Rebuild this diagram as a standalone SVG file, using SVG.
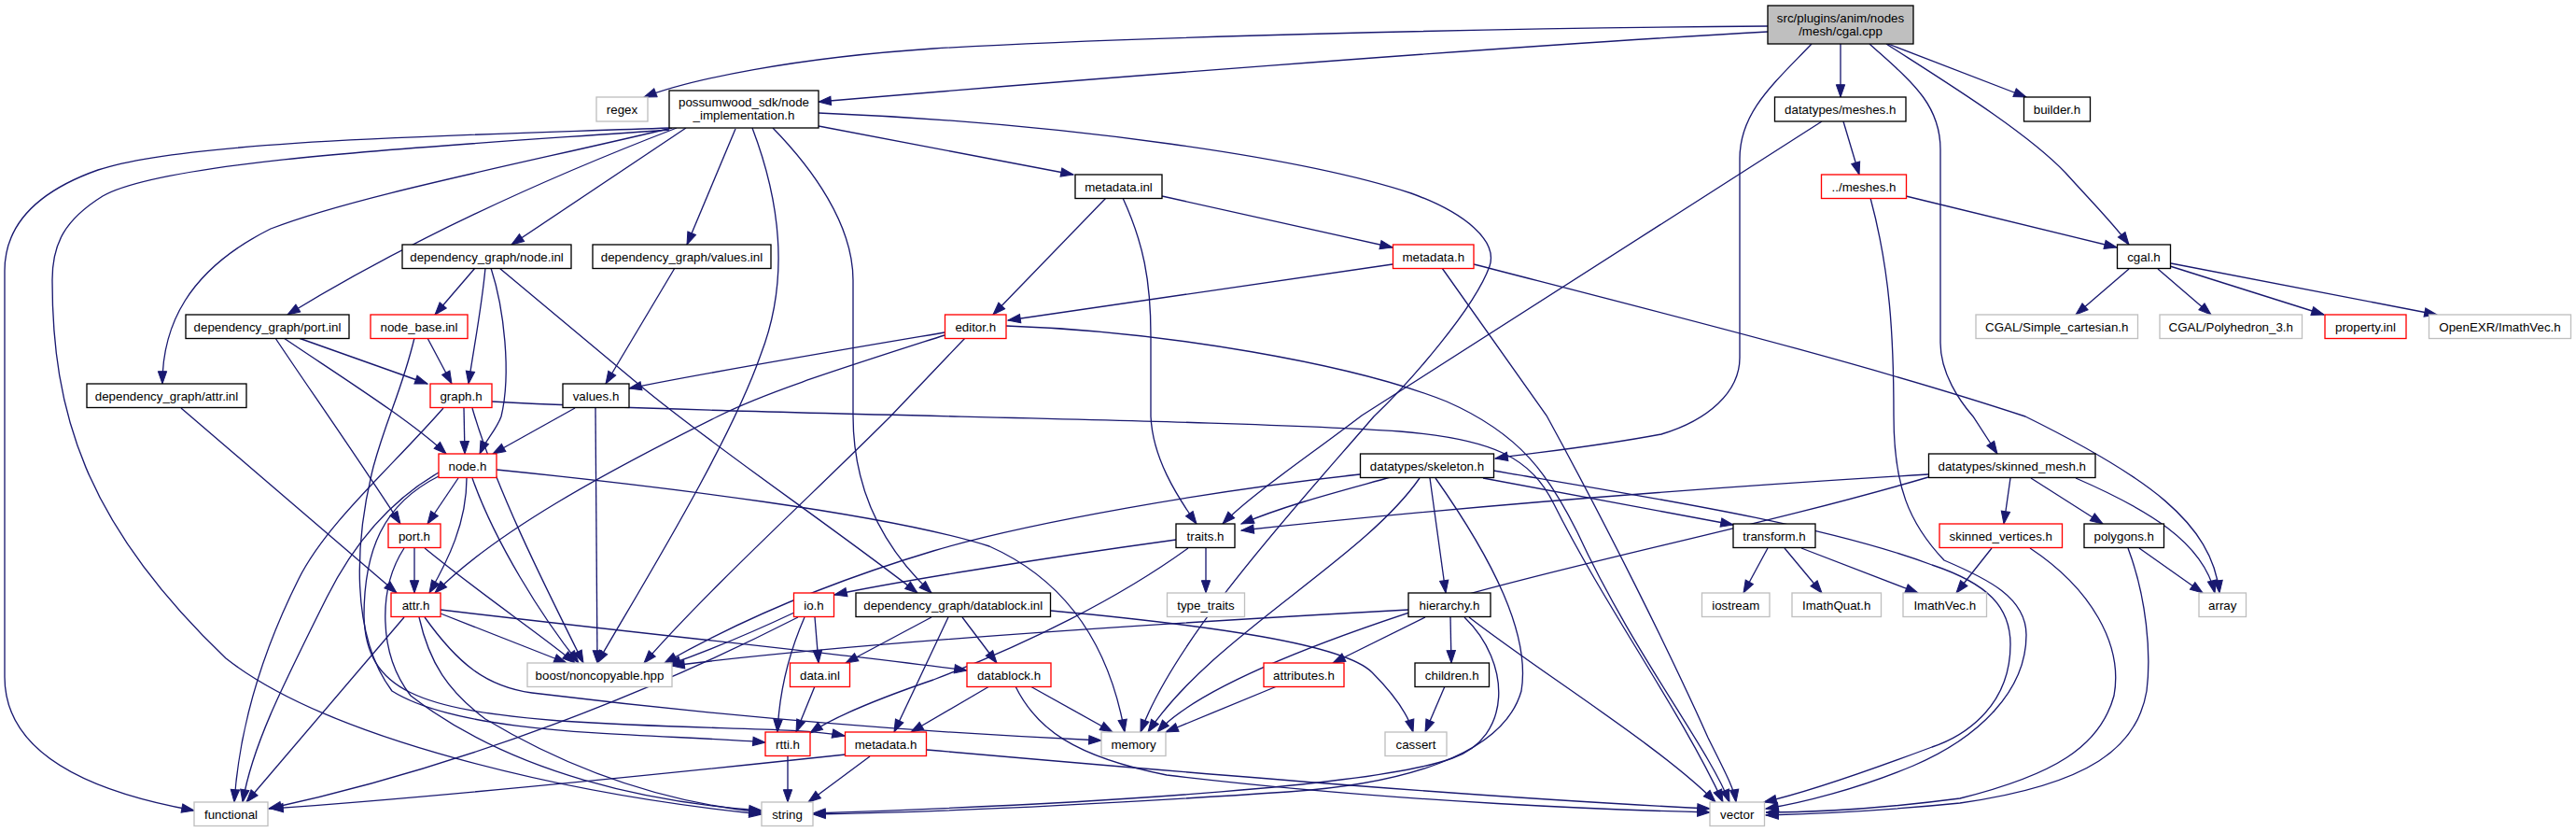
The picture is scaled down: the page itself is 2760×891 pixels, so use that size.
<svg xmlns="http://www.w3.org/2000/svg" width="2760" height="891" viewBox="0 0 2760 891">
<style>
rect{stroke-width:1.33}
.b rect{fill:#fff;stroke:#000}
.r rect{fill:#fff;stroke:#ff0000}
.g rect{fill:#fff;stroke:#bfbfbf}
.root rect{fill:#bfbfbf;stroke:#000}
text{font-family:"Liberation Sans",Arial,sans-serif;font-size:13.33px;text-anchor:middle;fill:#000}
#edges path{fill:none;stroke:#191970;stroke-width:1.33;marker-end:url(#ah)}
</style>
<defs>
<marker id="ah" markerUnits="userSpaceOnUse" markerWidth="14" markerHeight="10" refX="13.3" refY="4.67" orient="auto" overflow="visible"><path d="M0,0 L13.3,4.67 L0,9.33 z" fill="#191970" stroke="#191970" stroke-width="1"/></marker>
</defs>
<rect x="0" y="0" width="2760" height="891" fill="#fff"/>
<g id="edges">
<path d="M1894,28 C1600,30 1200,40 1000,52 C850,62 740,85 690,104"/>
<path d="M1894,34 C1600,50 1100,90 877,109"/>
<path d="M1972,47 L1972,104"/>
<path d="M2023,47 L2171,104"/>
<path d="M2021,47 C2080,85 2170,140 2213,185 C2240,215 2265,240 2281,262"/>
<path d="M2003,47 C2045,85 2079,110 2079,160 L2079,367 C2079,400 2100,430 2114,446 L2140,486"/>
<path d="M1941,47 C1900,90 1864,120 1864,170 L1864,383 C1864,420 1830,450 1780,465 C1700,480 1640,485 1602,491"/>
<path d="M717,137 C500,145 200,150 105,182 C40,205 5,240 5,290 L5,725 C5,800 80,845 208,868"/>
<path d="M717,139 C500,155 180,170 110,210 C70,235 56,260 56,300 C56,440 90,560 242,705 C350,790 600,850 816,872"/>
<path d="M720,137 C560,175 380,210 290,245 C200,290 174,350 174,411"/>
<path d="M725,137 C600,185 450,250 308,337"/>
<path d="M735,137 L548,262"/>
<path d="M788,138 L736,262"/>
<path d="M806,137 C830,200 850,290 815,380 C780,480 680,640 640,710"/>
<path d="M828,137 C870,180 914,240 914,300 L914,445 C914,530 950,590 998,635"/>
<path d="M877,135 L1150,187"/>
<path d="M877,121 C1150,132 1400,170 1512,207 C1570,228 1605,258 1596,285 C1580,330 1510,410 1472,446 C1400,530 1260,680 1222,784"/>
<path d="M1185,212 L1064,337"/>
<path d="M1245,210 L1492,265"/>
<path d="M1203,212 C1225,260 1233,300 1233,360 L1233,446 C1235,490 1260,530 1282,561"/>
<path d="M1492,283 L1080,343"/>
<path d="M1545,287 L1657,445 C1720,560 1790,700 1830,790 C1850,830 1858,845 1860,859"/>
<path d="M1579,283 C1800,340 2000,390 2170,446 C2300,510 2370,560 2378,635"/>
<path d="M1975,130 L1992,187"/>
<path d="M1952,130 L1459,445 C1400,490 1340,530 1310,561"/>
<path d="M2042,210 L2268,265"/>
<path d="M2004,212 C2025,290 2029,360 2029,445 C2029,520 2045,560 2083,600 C2130,620 2171,640 2171,680 C2171,740 2120,790 2050,820 C1990,845 1930,860 1892,866"/>
<path d="M2281,288 L2224,337"/>
<path d="M2312,288 L2369,337"/>
<path d="M2325,285 L2490,337"/>
<path d="M2326,282 L2611,337"/>
<path d="M509,287 L466,337"/>
<path d="M520,287 C516,330 508,370 502,411"/>
<path d="M526,287 C540,330 548,400 537,446 C532,460 520,472 514,486"/>
<path d="M535,287 L686,413 C760,475 900,570 983,635"/>
<path d="M723,287 L649,411"/>
<path d="M320,362 L458,411"/>
<path d="M304,362 C360,400 440,450 478,486"/>
<path d="M295,362 C320,400 390,500 429,561"/>
<path d="M458,362 L484,411"/>
<path d="M444,362 C430,420 415,445 400,500 C380,580 375,680 420,740 C500,790 700,785 820,795"/>
<path d="M194,437 L425,635"/>
<path d="M497,437 L498,486"/>
<path d="M475,437 C420,500 350,560 320,620 C270,720 255,800 251,859"/>
<path d="M506,437 C530,520 580,620 625,710"/>
<path d="M527,430 C800,445 1300,448 1500,462 C1600,470 1640,490 1665,540 C1720,650 1800,760 1846,859"/>
<path d="M616,437 L528,486"/>
<path d="M638,437 L640,710"/>
<path d="M1012,356 C900,375 750,400 674,416"/>
<path d="M1012,359 C900,395 820,420 769,446 C650,505 530,570 466,635"/>
<path d="M1034,362 L954,446 C870,530 760,630 690,710"/>
<path d="M1078,349 C1250,355 1450,390 1550,430 C1630,465 1660,510 1690,570 C1750,700 1830,800 1853,859"/>
<path d="M491,512 L458,561"/>
<path d="M500,512 C500,560 480,600 460,635"/>
<path d="M506,512 C530,580 580,660 620,710"/>
<path d="M532,503 C700,520 950,550 1060,585 C1150,625 1190,700 1205,784"/>
<path d="M470,506 C420,535 380,580 350,640 C300,740 270,800 260,859"/>
<path d="M470,510 C410,540 390,590 390,660 C392,740 450,760 600,772 C750,782 850,778 905,788"/>
<path d="M444,587 L444,635"/>
<path d="M455,587 C520,640 580,680 616,710"/>
<path d="M433,587 C405,630 405,700 440,745 C550,830 700,860 816,868"/>
<path d="M472,657 L607,710"/>
<path d="M433,661 L264,859"/>
<path d="M449,661 C460,710 480,740 520,770 C620,830 720,860 816,870"/>
<path d="M455,661 C490,710 520,735 570,742 C800,770 1000,785 1180,793"/>
<path d="M472,653 C700,680 900,700 1036,718"/>
<path d="M851,656 C800,680 750,700 716,712"/>
<path d="M855,661 C700,740 500,820 288,866"/>
<path d="M862,661 C845,700 835,740 833,784"/>
<path d="M873,661 L877,710"/>
<path d="M1260,578 C1100,600 950,625 894,637"/>
<path d="M1292,587 L1292,635"/>
<path d="M1273,587 C1200,640 1100,690 1000,728 C930,752 890,770 868,785"/>
<path d="M998,661 L906,710"/>
<path d="M1016,661 L958,784"/>
<path d="M1031,661 L1068,710"/>
<path d="M1126,654 C1300,670 1440,690 1470,720 C1500,750 1510,770 1514,784"/>
<path d="M1060,735 L976,784"/>
<path d="M1104,735 L1192,784"/>
<path d="M1088,735 C1110,780 1150,810 1250,830 C1500,860 1750,868 1832,870"/>
<path d="M873,735 L853,784"/>
<path d="M844,810 L844,859"/>
<path d="M932,810 L866,859"/>
<path d="M906,808 C700,830 450,855 290,866"/>
<path d="M993,803 C1300,830 1600,855 1832,866"/>
<path d="M1490,511 C1440,525 1380,540 1330,561"/>
<path d="M1457,508 C1300,525 1100,560 1000,590 C900,620 800,660 712,710"/>
<path d="M1521,512 C1460,600 1300,680 1230,784"/>
<path d="M1532,512 L1549,635"/>
<path d="M1538,512 C1600,600 1640,680 1630,740 C1610,810 1500,840 1380,848 C1200,860 1000,870 871,872"/>
<path d="M1589,512 L1857,562"/>
<path d="M1600,504 C1750,530 1950,560 2070,605 C2130,625 2154,650 2154,690 C2154,760 2100,790 2070,800 C1990,830 1930,850 1890,859"/>
<path d="M1527,661 L1428,710"/>
<path d="M1554,661 L1555,710"/>
<path d="M1509,653 C1200,670 900,690 720,713"/>
<path d="M1569,661 C1620,710 1620,790 1556,812 C1480,840 1200,860 871,871"/>
<path d="M1574,661 C1650,720 1780,800 1838,859"/>
<path d="M1548,735 L1527,784"/>
<path d="M1368,735 L1249,784"/>
<path d="M1894,587 L1868,635"/>
<path d="M1912,587 L1952,635"/>
<path d="M1930,587 L2055,635"/>
<path d="M2066,508 C1700,530 1450,555 1330,568"/>
<path d="M2066,511 C1900,560 1700,600 1560,640 C1400,690 1280,740 1240,784"/>
<path d="M2154,512 L2147,561"/>
<path d="M2176,512 L2253,561"/>
<path d="M2224,512 C2300,545 2360,580 2373,635"/>
<path d="M2134,587 L2096,635"/>
<path d="M2175,587 C2240,630 2275,690 2265,745 C2250,800 2200,830 2100,855 C2000,868 1930,870 1892,870"/>
<path d="M2292,587 L2360,635"/>
<path d="M2280,587 C2300,640 2305,700 2300,740 C2290,800 2240,840 2100,860 C2000,870 1930,872 1892,873"/>
</g>
<g id="n_root" class="root"><rect x="1894" y="6" width="156" height="41"/><text x="1972" y="23.5">src/plugins/anim/nodes</text><text x="1972" y="37.5">/mesh/cgal.cpp</text></g>
<g id="n_regex" class="g"><rect x="639" y="104" width="55" height="26"/><text x="666.5" y="121.7">regex</text></g>
<g id="n_possumwood" class="b"><rect x="717" y="97" width="160" height="40"/><text x="797" y="113.5">possumwood_sdk/node</text><text x="797" y="127.5">_implementation.h</text></g>
<g id="n_meshes" class="b"><rect x="1901.5" y="104" width="140.5" height="26"/><text x="1971.75" y="121.7">datatypes/meshes.h</text></g>
<g id="n_builder" class="b"><rect x="2168.5" y="104" width="71" height="26"/><text x="2204" y="121.7">builder.h</text></g>
<g id="n_metadata_inl" class="b"><rect x="1152" y="187" width="93" height="25.5"/><text x="1198.5" y="204.5">metadata.inl</text></g>
<g id="n_meshes2" class="r"><rect x="1951.5" y="187" width="91" height="25.5"/><text x="1997" y="204.5">../meshes.h</text></g>
<g id="n_node_inl" class="b"><rect x="431" y="262" width="181" height="25.5"/><text x="521.5" y="279.5">dependency_graph/node.inl</text></g>
<g id="n_values_inl" class="b"><rect x="635" y="262" width="191" height="25.5"/><text x="730.5" y="279.5">dependency_graph/values.inl</text></g>
<g id="n_metadata_h1" class="r"><rect x="1492.5" y="262" width="86.5" height="25.5"/><text x="1535.75" y="279.5">metadata.h</text></g>
<g id="n_cgal_h" class="b"><rect x="2268.5" y="262" width="57" height="25.5"/><text x="2297" y="279.5">cgal.h</text></g>
<g id="n_port_inl" class="b"><rect x="199" y="337" width="175" height="25.5"/><text x="286.5" y="354.5">dependency_graph/port.inl</text></g>
<g id="n_node_base" class="r"><rect x="397" y="337" width="104" height="25.5"/><text x="449" y="354.5">node_base.inl</text></g>
<g id="n_editor" class="r"><rect x="1012.5" y="337" width="65.5" height="25.5"/><text x="1045.25" y="354.5">editor.h</text></g>
<g id="n_simple_cart" class="g"><rect x="2117" y="337" width="173.5" height="25.5"/><text x="2203.75" y="354.5">CGAL/Simple_cartesian.h</text></g>
<g id="n_polyhedron" class="g"><rect x="2314" y="337" width="152.5" height="25.5"/><text x="2390.25" y="354.5">CGAL/Polyhedron_3.h</text></g>
<g id="n_property" class="r"><rect x="2491" y="337" width="87" height="25.5"/><text x="2534.5" y="354.5">property.inl</text></g>
<g id="n_openexr" class="g"><rect x="2602.5" y="337" width="152" height="25.5"/><text x="2678.5" y="354.5">OpenEXR/ImathVec.h</text></g>
<g id="n_attr_inl" class="b"><rect x="93" y="411" width="171" height="25.5"/><text x="178.5" y="428.5">dependency_graph/attr.inl</text></g>
<g id="n_graph" class="r"><rect x="461" y="411" width="66" height="25.5"/><text x="494" y="428.5">graph.h</text></g>
<g id="n_values_h" class="b"><rect x="603" y="411" width="71" height="25.5"/><text x="638.5" y="428.5">values.h</text></g>
<g id="n_node_h" class="r"><rect x="470" y="486" width="62" height="25.5"/><text x="501" y="503.5">node.h</text></g>
<g id="n_skeleton" class="b"><rect x="1457.5" y="486" width="143" height="25.5"/><text x="1529" y="503.5">datatypes/skeleton.h</text></g>
<g id="n_skinned_mesh" class="b"><rect x="2066.5" y="486" width="178.5" height="25.5"/><text x="2155.75" y="503.5">datatypes/skinned_mesh.h</text></g>
<g id="n_port_h" class="r"><rect x="416" y="561" width="56" height="25.5"/><text x="444" y="578.5">port.h</text></g>
<g id="n_traits" class="b"><rect x="1260" y="561" width="63" height="25.5"/><text x="1291.5" y="578.5">traits.h</text></g>
<g id="n_transform" class="b"><rect x="1857" y="561" width="88" height="25.5"/><text x="1901" y="578.5">transform.h</text></g>
<g id="n_skinned_vertices" class="r"><rect x="2078" y="561" width="131.5" height="25.5"/><text x="2143.75" y="578.5">skinned_vertices.h</text></g>
<g id="n_polygons" class="b"><rect x="2233" y="561" width="85.5" height="25.5"/><text x="2275.75" y="578.5">polygons.h</text></g>
<g id="n_attr_h" class="r"><rect x="419" y="635" width="53" height="25.5"/><text x="445.5" y="652.5">attr.h</text></g>
<g id="n_io_h" class="r"><rect x="850.5" y="635" width="43" height="25.5"/><text x="872" y="652.5">io.h</text></g>
<g id="n_datablock_inl" class="b"><rect x="917" y="635" width="208.5" height="25.5"/><text x="1021.25" y="652.5">dependency_graph/datablock.inl</text></g>
<g id="n_type_traits" class="g"><rect x="1250.5" y="635" width="83" height="25.5"/><text x="1292" y="652.5">type_traits</text></g>
<g id="n_hierarchy" class="b"><rect x="1509" y="635" width="88" height="25.5"/><text x="1553" y="652.5">hierarchy.h</text></g>
<g id="n_iostream" class="g"><rect x="1823.5" y="635" width="72.5" height="25.5"/><text x="1859.75" y="652.5">iostream</text></g>
<g id="n_imathquat" class="g"><rect x="1920" y="635" width="95.5" height="25.5"/><text x="1967.75" y="652.5">ImathQuat.h</text></g>
<g id="n_imathvec" class="g"><rect x="2039" y="635" width="89.5" height="25.5"/><text x="2083.75" y="652.5">ImathVec.h</text></g>
<g id="n_array" class="g"><rect x="2356" y="635" width="50.5" height="25.5"/><text x="2381.25" y="652.5">array</text></g>
<g id="n_noncopyable" class="g"><rect x="565" y="710" width="155" height="25.5"/><text x="642.5" y="727.5">boost/noncopyable.hpp</text></g>
<g id="n_data_inl" class="r"><rect x="846.5" y="710" width="64" height="25.5"/><text x="878.5" y="727.5">data.inl</text></g>
<g id="n_datablock_h" class="r"><rect x="1036" y="710" width="90" height="25.5"/><text x="1081" y="727.5">datablock.h</text></g>
<g id="n_attributes" class="r"><rect x="1354" y="710" width="86" height="25.5"/><text x="1397" y="727.5">attributes.h</text></g>
<g id="n_children" class="b"><rect x="1516" y="710" width="79.5" height="25.5"/><text x="1555.75" y="727.5">children.h</text></g>
<g id="n_rtti" class="r"><rect x="820" y="784" width="48" height="25.5"/><text x="844" y="801.5">rtti.h</text></g>
<g id="n_metadata_h2" class="r"><rect x="905.5" y="784" width="87" height="25.5"/><text x="949" y="801.5">metadata.h</text></g>
<g id="n_memory" class="g"><rect x="1180" y="784" width="69" height="25.5"/><text x="1214.5" y="801.5">memory</text></g>
<g id="n_cassert" class="g"><rect x="1484" y="784" width="66" height="25.5"/><text x="1517" y="801.5">cassert</text></g>
<g id="n_functional" class="g"><rect x="208" y="859" width="79" height="25.5"/><text x="247.5" y="876.5">functional</text></g>
<g id="n_string" class="g"><rect x="816" y="859" width="55" height="25.5"/><text x="843.5" y="876.5">string</text></g>
<g id="n_vector" class="g"><rect x="1832" y="859" width="58.5" height="25.5"/><text x="1861.25" y="876.5">vector</text></g>
</svg>
